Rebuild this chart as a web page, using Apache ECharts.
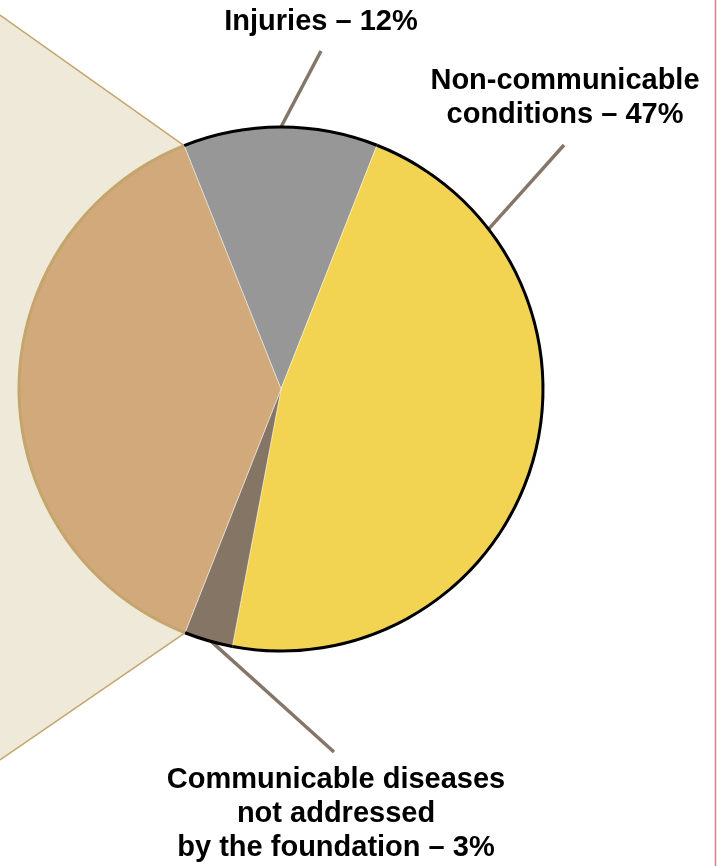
<!DOCTYPE html>
<html>
<head>
<meta charset="utf-8">
<style>
  html, body { margin: 0; padding: 0; background: #fff; }
  #main { width: 717px; height: 866px; }
</style>
<script src="https://cdn.jsdelivr.net/npm/echarts@6/dist/echarts.min.js"></script>
</head>
<body>
<div id="main"></div>
<script>
// shares (percent)
var categories = [
    'Injuries',
    'Non-communicable conditions',
    'Communicable diseases not addressed by the foundation',
    'Communicable diseases addressed by the foundation'
];
var shares = [12, 47, 3, 38];
var labelTexts = [
    'Injuries – 12%',
    'Non-communicable\nconditions – 47%',
    'Communicable diseases\nnot addressed\nby the foundation – 3%',
    ''
];

var sliceColors = ['#979797', '#f2d452', '#857565', '#d1a97a'];
var rimColors = ['#000000', '#000000', '#000000', '#c4a56c'];

// pie geometry
var cx = 281, cy = 389, r = 262;
var startAngle = 111.7;

// label placement + leader lines (angle clockwise from 12 o'clock)
var labelPos = [[321, 22], [565, 98], [336, 814]];
var guideAngle = [0, 52.4, 195.4];
var guideEnd = [[321, 51], [564, 145], [334, 752]];

function onCircle(deg) {
    var a = deg * Math.PI / 180;
    return [cx + r * Math.sin(a), cy - r * Math.cos(a)];
}

// tan slice edges -> the fan that opens to the left
var total = shares.reduce(function(s, v) { return s + v; }, 0);
var firstEdge = 90 - startAngle;
var tanStart = firstEdge + 360 * (shares[0] + shares[1] + shares[2]) / total;
var pTop = onCircle(firstEdge);
var pBot = onCircle(tanStart);
var fanTop = [0, 15], fanBot = [0, 760];

var chart = echarts.init(document.getElementById('main'));

var option = {
    animation: false,
    backgroundColor: '#fff',
    graphic: [
        {
            type: 'polygon',
            z: 0,
            shape: { points: [fanTop, pTop, [cx, cy], pBot, fanBot] },
            style: { fill: '#efe9da', stroke: null }
        },
        {
            type: 'polyline',
            z: 0,
            shape: { points: [fanTop, pTop] },
            style: { stroke: '#c4a56c', lineWidth: 1.5, fill: null }
        },
        {
            type: 'polyline',
            z: 0,
            shape: { points: [pBot, fanBot] },
            style: { stroke: '#c4a56c', lineWidth: 1.5, fill: null }
        },
        {
            type: 'line',
            z: 0,
            shape: { x1: 715.5, y1: 0, x2: 715.5, y2: 866 },
            style: { stroke: '#d47f8c', lineWidth: 1.5 }
        }
    ],
    series: [
        {
            type: 'pie',
            center: [cx, cy],
            radius: [0, r],
            startAngle: startAngle,
            avoidLabelOverlap: false,
            z: 2,
            itemStyle: {
                borderColor: 'rgba(255,255,255,0.55)',
                borderWidth: 0.8
            },
            label: {
                show: true,
                position: 'outside',
                fontFamily: '"Liberation Sans", Arial, sans-serif',
                fontWeight: 'bold',
                fontSize: 29,
                lineHeight: 34,
                color: '#000',
                align: 'center',
                formatter: function(p) { return labelTexts[p.dataIndex]; }
            },
            labelLine: {
                show: true,
                lineStyle: { color: '#84776a', width: 3.5 }
            },
            labelLayout: function(p) {
                var i = p.dataIndex;
                if (i >= labelPos.length) {
                    return {};
                }
                var s = onCircle(guideAngle[i]);
                var e = guideEnd[i];
                return {
                    x: labelPos[i][0],
                    y: labelPos[i][1],
                    align: 'center',
                    verticalAlign: 'middle',
                    labelLinePoints: [s, [(s[0] + e[0]) / 2, (s[1] + e[1]) / 2], e]
                };
            },
            emphasis: { disabled: true },
            data: categories.map(function(name, i) {
                var item = {
                    name: name,
                    value: shares[i],
                    itemStyle: { color: sliceColors[i] }
                };
                if (!labelTexts[i]) {
                    item.label = { show: false };
                    item.labelLine = { show: false };
                }
                return item;
            })
        },
        {
            // outer rim: black on three slices, tan on the last one
            type: 'pie',
            center: [cx, cy],
            radius: [r - 1.5, r + 1.5],
            startAngle: startAngle,
            silent: true,
            z: 3,
            label: { show: false },
            labelLine: { show: false },
            data: categories.map(function(name, i) {
                return { name: name, value: shares[i], itemStyle: { color: rimColors[i] } };
            })
        }
    ]
};

chart.setOption(option);
</script>
</body>
</html>
